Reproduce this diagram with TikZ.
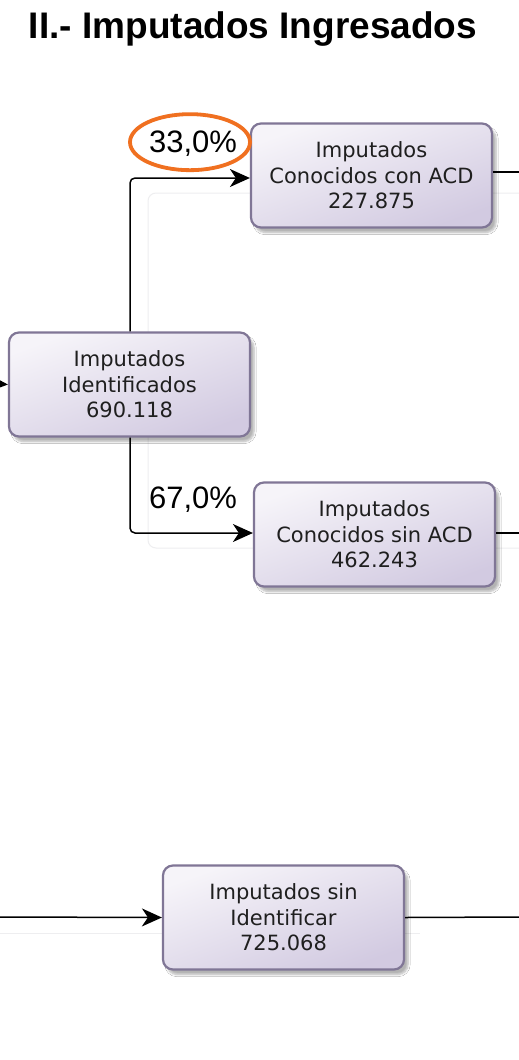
\documentclass[tikz,border=0pt]{standalone}
\usepackage{fontspec}
\setmainfont{Liberation Sans}
\newfontfamily\boxfont{DejaVu Sans}
\usetikzlibrary{arrows.meta,shadows.blur}
\definecolor{boxborder}{RGB}{128,118,150}
\definecolor{boxtop}{RGB}{246,244,249}
\definecolor{boxbot}{RGB}{210,202,225}
\definecolor{orng}{RGB}{240,112,32}
\definecolor{faint}{RGB}{238,238,240}
\tikzset{
  flowbox/.style={draw=boxborder, line width=2.2pt, rounded corners=10pt,
    top color=boxtop, bottom color=boxbot, shading angle=20,
    minimum width=241pt, minimum height=104pt, inner sep=0pt,
    align=center, text=black!88,
    font=\boxfont\fontsize{21}{25.5}\selectfont,
    blur shadow={shadow xshift=4pt, shadow yshift=-5pt, shadow opacity=30, shadow blur steps=6}},
  conn/.style={line width=1.5pt, black, -{Stealth[length=20pt,width=18pt,inset=6pt]}},
  plain/.style={line width=1.5pt, black},
  pct/.style={font=\fontsize{31}{31}\selectfont, anchor=base, inner sep=0pt},
}
\begin{document}
\begin{tikzpicture}[x=1pt,y=-1pt]
\useasboundingbox (0,0) rectangle (519,1060);
\fill[white] (0,0) rectangle (519,1060);
% faint background group
\draw[faint, line width=1pt, rounded corners=8pt] (148,193) rectangle (540,548);
\draw[faint, line width=1pt] (0,933) -- (420,933);

\node[font=\bfseries\fontsize{37}{37}\selectfont, anchor=base] (title) at (253,38) {II.- Imputados Ingresados};

\node[flowbox] (A) at (371.5,175.5) {Imputados\\Conocidos con ACD\\227.875};
\node[flowbox] (B) at (129.5,384.5) {Imputados\\Identificados\\690.118};
\node[flowbox] (C) at (374.5,534.5) {Imputados\\Conocidos sin ACD\\462.243};
\node[flowbox] (D) at (283.5,917.5) {Imputados sin\\Identificar\\725.068};

\coordinate (inB) at (0,384);
\coordinate (outA) at (519,172);
\coordinate (outC) at (519,533);
\coordinate (inD) at (0,917);
\coordinate (outD) at (519,917);

\draw[conn] (inB) -- (B.west);
\draw[conn, rounded corners=5pt] (B.north -| 130,0) -- (130,178) -- (A.west |- 0,178);
\draw[conn, rounded corners=5pt] (B.south -| 130,0) -- (130,533) -- (C.west |- 0,533);
\draw[plain] (A.east |- outA) -- (outA);
\draw[plain] (C.east |- outC) -- (outC);
\draw[conn] (inD) -- (D.west);
\draw[plain] (D.east) -- (outD);

\node[pct] (p1) at (193,152) {33,0\%};
\node[pct] (p2) at (193,508) {67,0\%};
\draw[orng, line width=3.8pt] (p1.center) ++(-3,-1) ellipse [x radius=60, y radius=28];
\end{tikzpicture}
\end{document}
